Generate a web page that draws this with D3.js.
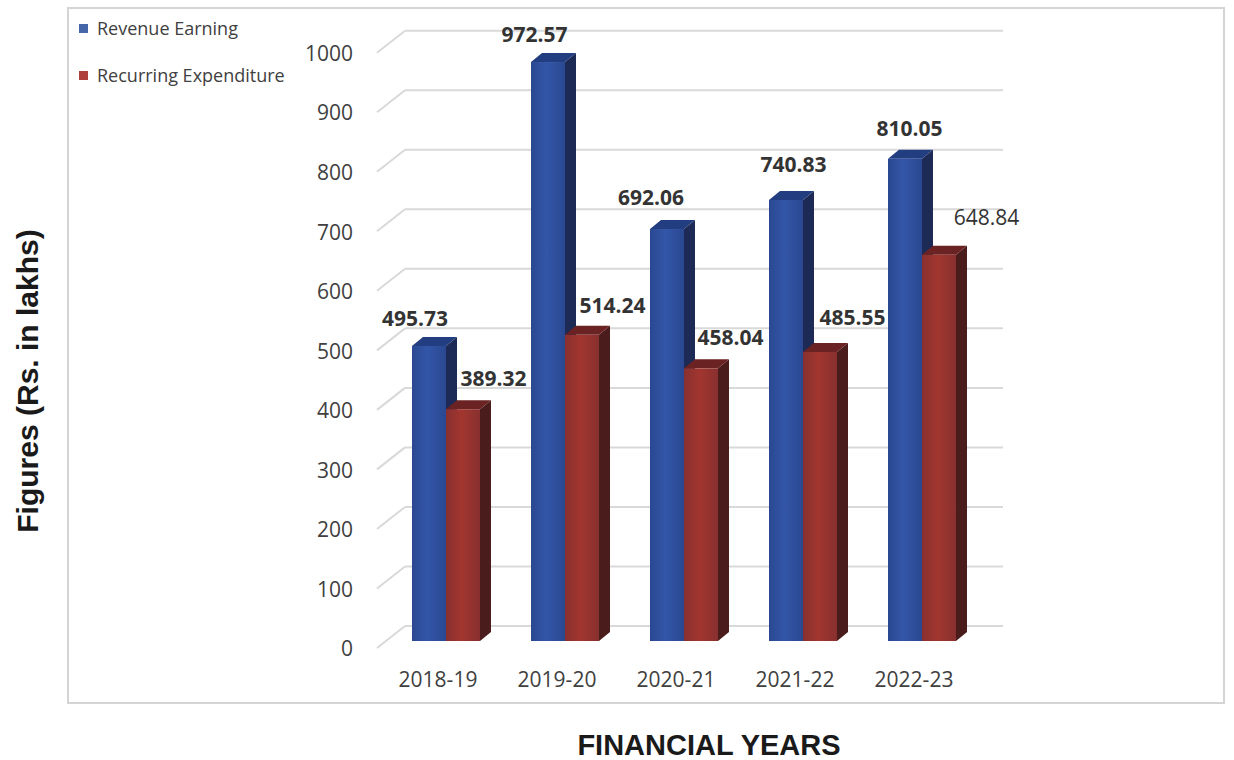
<!DOCTYPE html>
<html>
<head>
<meta charset="utf-8">
<script src="https://cdn.jsdelivr.net/npm/d3@7"></script>
<style>
  html, body { margin: 0; padding: 0; background: #ffffff; }
  svg { display: block; }
</style>
</head>
<body>
<svg id="chart" width="1234" height="760"></svg>
<script>
// ---------- data ----------
const categories = ["2018-19", "2019-20", "2020-21", "2021-22", "2022-23"];
const seriesNames = ["Revenue Earning", "Recurring Expenditure"];
const revenueEarning = [495.73, 972.57, 692.06, 740.83, 810.05];
const recurringExpenditure = [389.32, 514.24, 458.04, 485.55, 648.84];
const yTicks = [0, 100, 200, 300, 400, 500, 600, 700, 800, 900, 1000];
const xTitle = "FINANCIAL YEARS";
const yTitle = "Figures (Rs. in lakhs)";

// ---------- layout / style (not data) ----------
const FONT = "'Open Sans', 'DejaVu Sans', sans-serif";
const TITLE_FONT = "'Liberation Sans', Arial, sans-serif";
const depth = { dx: 11, dy: -9 };          // bar 3D depth
const wall = { dx: 28, dy: -22 };          // back-wall offset
const style = {
  rev:  { light: "#3456a8", dark: "#2a4891", top: "#223d80", side: "#1c2a55", legend: "#4566a8" },
  rec:  { light: "#a2362f", dark: "#88302f", top: "#6a2222", side: "#4a1c1c", legend: "#b0403c" }
};
// manual label placement (offset of label centre from bar front-top centre), as in the original
const revLabelOffset = [[-14, -27], [-13.5, -27], [-16, -31], [7.5, -35.5], [4.5, -30]];
const recLabelOffset = [[30.5, -31], [30.5, -29], [29.5, -31], [32.5, -34], [47.5, -37]];
const recLabelWeight = ["bold", "bold", "bold", "bold", "normal"];

const svg = d3.select("#chart");

// gradients
const defs = svg.append("defs");
[["gRev", style.rev], ["gRec", style.rec]].forEach(([id, s]) => {
  const g = defs.append("linearGradient").attr("id", id)
    .attr("x1", "0%").attr("x2", "100%").attr("y1", "0%").attr("y2", "0%");
  g.append("stop").attr("offset", "0%").attr("stop-color", s.dark);
  g.append("stop").attr("offset", "45%").attr("stop-color", s.light);
  g.append("stop").attr("offset", "100%").attr("stop-color", s.dark);
});

// outer frame
svg.append("rect")
  .attr("x", 68).attr("y", 8).attr("width", 1156).attr("height", 695)
  .attr("fill", "#ffffff").attr("stroke", "#d4d4d4").attr("stroke-width", 2);

// ---------- scales ----------
const x = d3.scaleBand().domain(categories)
  .range([386.5, 981.5]).paddingInner(51 / 119).paddingOuter(0.2143);
const xs = d3.scaleBand().domain(seriesNames).range([0, x.bandwidth()]);
const y = d3.scaleLinear().domain([0, 1000]).range([641, 45.7]);

const wallLeft = 405, wallRight = 1003;

// ---------- gridlines (back wall) ----------
const grid = svg.append("g");
grid.selectAll("line.h").data(yTicks).join("line")
  .attr("class", "h")
  .attr("x1", wallLeft).attr("x2", wallRight)
  .attr("y1", d => y(d) - 15).attr("y2", d => y(d) - 15)
  .attr("stroke", "#d9d9d9").attr("stroke-width", 2);
grid.selectAll("line.d").data(yTicks).join("line")
  .attr("class", "d")
  .attr("x1", wallLeft - wall.dx).attr("x2", wallLeft)
  .attr("y1", d => y(d) - 15 - wall.dy).attr("y2", d => y(d) - 15)
  .attr("stroke", "#d9d9d9").attr("stroke-width", 2);

// ---------- y axis ----------
const yAxis = svg.append("g")
  .attr("transform", "translate(359,8)")
  .call(d3.axisLeft(y).tickValues(yTicks).tickSize(0).tickPadding(6).tickFormat(d3.format("d")));
yAxis.select(".domain").remove();
yAxis.selectAll("text")
  .attr("font-family", FONT).attr("font-size", 21).attr("fill", "#404040");

// ---------- x axis ----------
const xAxis = svg.append("g")
  .attr("transform", "translate(-8,660)")
  .call(d3.axisBottom(x).tickSize(0).tickPadding(12));
xAxis.select(".domain").remove();
xAxis.selectAll("text")
  .attr("font-family", FONT).attr("font-size", 21).attr("fill", "#404040");

// ---------- bars ----------
const rows = categories.map((c, i) => ({
  cat: c, i,
  vals: [
    { key: seriesNames[0], v: revenueEarning[i], s: style.rev, grad: "url(#gRev)" },
    { key: seriesNames[1], v: recurringExpenditure[i], s: style.rec, grad: "url(#gRec)" }
  ]
}));

const groups = svg.append("g").selectAll("g.grp").data(rows).join("g")
  .attr("class", "grp")
  .attr("transform", d => `translate(${x(d.cat)},0)`);

const bw = xs.bandwidth();
const bar = groups.selectAll("g.bar").data(d => d.vals).join("g").attr("class", "bar");

// side face
bar.append("polygon")
  .attr("points", d => {
    const x0 = xs(d.key) + bw, t = y(d.v), b = y(0);
    return [[x0, t], [x0 + depth.dx, t + depth.dy], [x0 + depth.dx, b + depth.dy], [x0, b]].join(" ");
  })
  .attr("fill", d => d.s.side);
// top face
bar.append("polygon")
  .attr("points", d => {
    const x0 = xs(d.key), t = y(d.v);
    return [[x0, t], [x0 + depth.dx, t + depth.dy], [x0 + bw + depth.dx, t + depth.dy], [x0 + bw, t]].join(" ");
  })
  .attr("fill", d => d.s.top);
// front face
bar.append("rect")
  .attr("x", d => xs(d.key))
  .attr("y", d => y(d.v))
  .attr("width", bw)
  .attr("height", d => y(0) - y(d.v))
  .attr("fill", d => d.grad);

// ---------- value labels ----------
const labels = svg.append("g");
rows.forEach(r => {
  const [rev, rec] = r.vals;
  const ro = revLabelOffset[r.i], co = recLabelOffset[r.i];
  labels.append("text")
    .attr("x", x(r.cat) + xs(rev.key) + bw / 2 + ro[0])
    .attr("y", y(rev.v) + ro[1])
    .attr("dy", "0.35em")
    .attr("text-anchor", "middle")
    .attr("font-family", FONT).attr("font-size", 21).attr("font-weight", "bold")
    .attr("fill", "#333333")
    .text(d3.format(".2f")(rev.v));
  labels.append("text")
    .attr("x", x(r.cat) + xs(rec.key) + bw / 2 + co[0])
    .attr("y", y(rec.v) + co[1])
    .attr("dy", "0.35em")
    .attr("text-anchor", "middle")
    .attr("font-family", FONT).attr("font-size", 21).attr("font-weight", recLabelWeight[r.i])
    .attr("fill", "#333333")
    .text(d3.format(".2f")(rec.v));
});

// ---------- legend ----------
const legend = svg.append("g").attr("transform", "translate(79,24)");
const li = legend.selectAll("g").data(seriesNames).join("g")
  .attr("transform", (d, i) => `translate(0,${i * 47})`);
li.append("rect").attr("width", 9).attr("height", 9)
  .attr("fill", (d, i) => i === 0 ? style.rev.legend : style.rec.legend);
li.append("text")
  .attr("x", 18).attr("y", 4.5).attr("dy", "0.35em")
  .attr("font-family", FONT).attr("font-size", 18).attr("fill", "#404040")
  .text(d => d);

// ---------- axis titles ----------
svg.append("text")
  .attr("x", 709).attr("y", 745).attr("dy", "0.35em")
  .attr("text-anchor", "middle")
  .attr("font-family", TITLE_FONT).attr("font-size", 29).attr("font-weight", "bold")
  .attr("fill", "#1a1a1a")
  .text(xTitle);

svg.append("text")
  .attr("transform", "translate(27,381) rotate(-90)")
  .attr("dy", "0.35em")
  .attr("text-anchor", "middle")
  .attr("font-family", TITLE_FONT).attr("font-size", 30).attr("font-weight", "bold")
  .attr("fill", "#1a1a1a")
  .text(yTitle);
</script>
</body>
</html>
